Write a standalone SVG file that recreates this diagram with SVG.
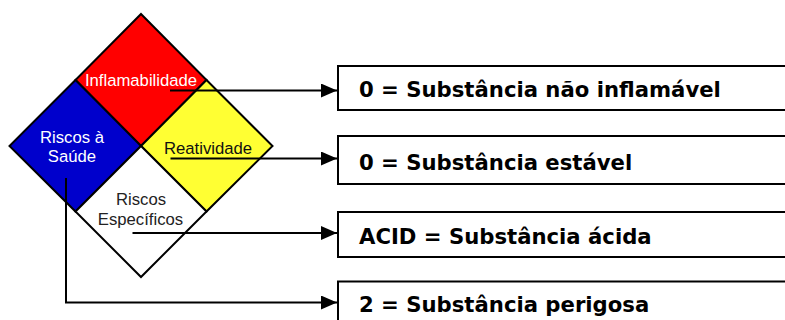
<svg xmlns="http://www.w3.org/2000/svg" width="785" height="320" viewBox="0 0 785 320">
<style>
.q{stroke:#000;stroke-width:2;stroke-linejoin:miter}
.lbl{font-family:"Liberation Sans",Arial,sans-serif;font-size:16.7px;text-anchor:middle}
.box{fill:#fff;stroke:#000;stroke-width:2}
.bt{font-family:"DejaVu Sans",Verdana,sans-serif;font-weight:bold;font-size:21.2px;fill:#000}
.c{stroke:#000;stroke-width:2;fill:none}
</style>
<defs>
<marker id="ah" markerUnits="userSpaceOnUse" markerWidth="17" markerHeight="14" refX="16" refY="7" orient="auto">
<path d="M0,0 L16,7 L0,14 Z" fill="#000"/>
</marker>
</defs>
<rect width="785" height="320" fill="#fff"/>
<g id="diamond">
<g id="inflamabilidade">
<polygon class="q" points="141,14 206.5,80 141,146 75.5,80" fill="#ff0000"/>
<text class="lbl" x="141" y="86" fill="#fff">Inflamabilidade</text>
</g>
<g id="saude">
<polygon class="q" points="75.5,80 141,146 75.5,211.5 9.5,146" fill="#0000cc"/>
<text class="lbl" x="72" y="143" fill="#fff">Riscos à</text>
<text class="lbl" x="72" y="161.5" fill="#fff">Saúde</text>
</g>
<g id="reatividade">
<polygon class="q" points="206.5,80 272.5,146 206.5,211.5 141,146" fill="#ffff33"/>
<text class="lbl" x="208" y="154" fill="#111">Reatividade</text>
</g>
<g id="especificos">
<polygon class="q" points="141,146 206.5,211.5 141,277 75.5,211.5" fill="#fff"/>
<text class="lbl" x="141" y="205" fill="#222">Riscos</text>
<text class="lbl" x="140.5" y="224.5" fill="#222">Específicos</text>
</g>
</g>
<g id="box1">
<rect class="box" x="338" y="66" width="460" height="44"/>
<text class="bt" x="359" y="96.5">0 = Substância não inflamável</text>
</g>
<g id="box2">
<rect class="box" x="338" y="136" width="460" height="48"/>
<text class="bt" x="359" y="169.5">0 = Substância estável</text>
</g>
<g id="box3">
<rect class="box" x="338" y="212" width="460" height="45"/>
<text class="bt" x="359" y="243.5">ACID = Substância ácida</text>
</g>
<g id="box4">
<rect class="box" x="338" y="281.5" width="460" height="50"/>
<text class="bt" x="359" y="312">2 = Substância perigosa</text>
</g>
<g id="connectors">
<path class="c" d="M170,90.5 H337" marker-end="url(#ah)"/>
<path class="c" d="M170.5,158.5 H337" marker-end="url(#ah)"/>
<path class="c" d="M132.5,233 H337" marker-end="url(#ah)"/>
<path class="c" d="M66,178 V302.5 H337" marker-end="url(#ah)"/>
</g>
</svg>
